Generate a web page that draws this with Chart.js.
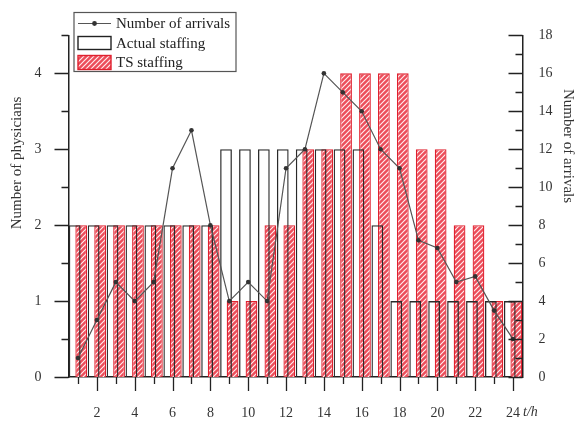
<!DOCTYPE html>
<html>
<head>
<meta charset="utf-8">
<script src="https://cdn.jsdelivr.net/npm/chart.js@4.4.0/dist/chart.umd.min.js"></script>
<style>
html,body{margin:0;padding:0;background:#fff;}
#wrap{width:579px;height:423px;position:relative;}
</style>
</head>
<body>
<div id="wrap"><canvas id="c" width="579" height="423"></canvas></div>
<script>
// ---- data ----
const hours = [1,2,3,4,5,6,7,8,9,10,11,12,13,14,15,16,17,18,19,20,21,22,23,24];
const actualStaffing = [2,2,2,2,2,2,2,2,3,3,3,3,3,3,3,3,2,1,1,1,1,1,1,1];
const tsStaffing     = [2,2,2,2,2,2,2,2,1,1,2,2,3,3,4,4,4,4,3,3,2,2,1,1];
const arrivals       = [1,3,5,4,5,11,13,8,4,5,4,11,12,16,15,14,12,11,7.2,6.8,5,5.3,3.5,2];
const xMajorTicks = [2,4,6,8,10,12,14,16,18,20,22,24];
const xMinorTicks = [1,3,5,7,9,11,13,15,17,19,21,23];
const leftMajorTicks = [0,1,2,3,4];
const leftMinorTicks = [0.5,1.5,2.5,3.5,4.5];
const rightMajorTicks = [0,2,4,6,8,10,12,14,16,18];
const rightMinorTicks = [1,3,5,7,9,11,13,15,17];
const seriesLabels = ['Number of arrivals','Actual staffing','TS staffing'];
const leftTitle = 'Number of physicians';
const rightTitle = 'Number of arrivals';
const xUnit = 't/h';

const FONT = '"Liberation Serif", "Times New Roman", serif';
const TXT = '#333';

function makeHatch(){
  const s = 5;
  const c = document.createElement('canvas'); c.width = s; c.height = s;
  const g = c.getContext('2d');
  g.fillStyle = '#ec4d5a'; g.fillRect(0,0,s,s);
  g.strokeStyle = '#ffecee'; g.lineWidth = 1.2;
  g.beginPath();
  g.moveTo(0,s); g.lineTo(s,0);
  g.moveTo(-s,s); g.lineTo(s,-s);
  g.moveTo(0,2*s); g.lineTo(2*s,0);
  g.stroke();
  return document.getElementById('c').getContext('2d').createPattern(c,'repeat');
}
const hatch = makeHatch();

const pts = (ys) => hours.map((h,i)=>({x:h, y:ys[i]}));

const overlay = {
  id:'overlay',
  afterDatasetsDraw(chart){
    const {ctx, chartArea:ca} = chart;
    const x = chart.scales.x, yL = chart.scales.yL, yR = chart.scales.yR;
    ctx.save();
    ctx.strokeStyle = '#222'; ctx.lineWidth = 1.3;
    ctx.beginPath();
    xMajorTicks.forEach(v=>{const p=Math.round(x.getPixelForValue(v))+0.5; ctx.moveTo(p,ca.bottom); ctx.lineTo(p,ca.bottom+14);});
    xMinorTicks.forEach(v=>{const p=Math.round(x.getPixelForValue(v))+0.5; ctx.moveTo(p,ca.bottom); ctx.lineTo(p,ca.bottom+7);});
    leftMajorTicks.forEach(v=>{const p=Math.round(yL.getPixelForValue(v))+0.5; ctx.moveTo(ca.left,p); ctx.lineTo(ca.left-14,p);});
    leftMinorTicks.forEach(v=>{const p=Math.round(yL.getPixelForValue(v))+0.5; ctx.moveTo(ca.left,p); ctx.lineTo(ca.left-7,p);});
    rightMajorTicks.forEach(v=>{const p=Math.round(yR.getPixelForValue(v))+0.5; ctx.moveTo(ca.right,p); ctx.lineTo(ca.right-14,p);});
    rightMinorTicks.forEach(v=>{const p=Math.round(yR.getPixelForValue(v))+0.5; ctx.moveTo(ca.right,p); ctx.lineTo(ca.right-7,p);});
    ctx.stroke();
    ctx.restore();
  },
  afterDraw(chart){
    const {ctx, chartArea:ca} = chart;
    const x = chart.scales.x;
    ctx.save();
    // legend
    const bx = ca.left + 5.5, by = 12.5, bw = 162, bh = 59;
    ctx.fillStyle = '#fff'; ctx.fillRect(bx,by,bw,bh);
    ctx.strokeStyle = '#555'; ctx.lineWidth = 1.2; ctx.strokeRect(bx,by,bw,bh);
    const sx = bx + 4, sw = 33;
    const rows = [by+11, by+30.5, by+50];
    ctx.strokeStyle = '#555'; ctx.lineWidth = 1.2;
    ctx.beginPath(); ctx.moveTo(sx, rows[0]); ctx.lineTo(sx+sw, rows[0]); ctx.stroke();
    ctx.fillStyle = '#333'; ctx.beginPath(); ctx.arc(sx+sw/2, rows[0], 2.4, 0, Math.PI*2); ctx.fill();
    ctx.strokeStyle = '#222'; ctx.lineWidth = 1.4;
    ctx.strokeRect(sx, rows[1]-6.5, sw, 13);
    ctx.fillStyle = hatch; ctx.fillRect(sx, rows[2]-7, sw, 14);
    ctx.strokeStyle = '#e0202e'; ctx.lineWidth = 1.4; ctx.strokeRect(sx, rows[2]-7, sw, 14);
    ctx.fillStyle = '#222'; ctx.font = '15px ' + FONT; ctx.textBaseline = 'middle'; ctx.textAlign = 'left';
    const ds = chart.data.datasets;
    [ds[0].label, ds[1].label, ds[2].label].forEach((t,i)=>ctx.fillText(t, sx+sw+5, rows[i]+1));
    // axis titles
    ctx.fillStyle = TXT; ctx.font = '15px ' + FONT; ctx.textAlign = 'center';
    ctx.save(); ctx.translate(17, 163); ctx.rotate(-Math.PI/2); ctx.fillText(leftTitle, 0, 0); ctx.restore();
    ctx.save(); ctx.translate(568, 146); ctx.rotate(Math.PI/2); ctx.fillText(rightTitle, 0, 0); ctx.restore();
    // unit label
    ctx.font = 'italic 14px ' + FONT; ctx.textAlign = 'left';
    ctx.fillText(xUnit, x.getPixelForValue(24) + 10, ca.bottom + 35);
    ctx.restore();
  }
};

new Chart(document.getElementById('c'), {
  data: {
    datasets: [
      { type:'line', label: seriesLabels[0], data: pts(arrivals), yAxisID:'yR', xAxisID:'x', order:0,
        borderColor:'#555', borderWidth:1.2, pointRadius:2.3, pointBackgroundColor:'#333', pointBorderWidth:0, tension:0, fill:false },
      { type:'bar', label: seriesLabels[1], data: pts(actualStaffing), yAxisID:'yL', xAxisID:'x', order:1,
        backgroundColor:'rgba(0,0,0,0)', borderColor:'#2a2a2a', borderWidth:1.3, borderSkipped:'start',
        categoryPercentage:0.69, barPercentage:1.8 },
      { type:'bar', label: seriesLabels[2], data: pts(tsStaffing), yAxisID:'yL', xAxisID:'x', order:2,
        backgroundColor: hatch, borderColor:'#e0202e', borderWidth:1.3, borderSkipped:'start',
        categoryPercentage:0.69, barPercentage:1.8 }
    ]
  },
  options: {
    responsive:false, animation:false, devicePixelRatio:1,
    layout:{ padding:{left:0,right:0,top:12.5,bottom:0} },
    plugins:{ legend:{display:false}, tooltip:{enabled:false} },
    scales:{
      x:{ type:'linear', position:'bottom', min:0.5, max:24.5, offset:false,
          afterBuildTicks:(s)=>{ s.ticks = xMajorTicks.map(v=>({value:v})); },
          afterFit:(s)=>{ s.height = 46; },
          grid:{display:false, drawTicks:false},
          border:{display:true, color:'#222', width:1.5},
          ticks:{ padding:28, color:TXT, font:{family:FONT, size:14}, maxRotation:0, autoSkip:false } },
      yL:{ type:'linear', position:'left', min:0, max:4.5,
          afterBuildTicks:(s)=>{ s.ticks = leftMajorTicks.map(v=>({value:v})); },
          afterFit:(s)=>{ s.width = 68.5; },
          grid:{display:false, drawTicks:false},
          border:{display:true, color:'#222', width:1.5},
          ticks:{ padding:27, color:TXT, font:{family:FONT, size:14} } },
      yR:{ type:'linear', position:'right', min:0, max:18,
          afterBuildTicks:(s)=>{ s.ticks = rightMajorTicks.map(v=>({value:v})); },
          afterFit:(s)=>{ s.width = 56.5; },
          grid:{display:false, drawTicks:false},
          border:{display:true, color:'#222', width:1.5},
          ticks:{ padding:16, color:TXT, font:{family:FONT, size:14} } }
    }
  },
  plugins:[overlay]
});
</script>
</body>
</html>
